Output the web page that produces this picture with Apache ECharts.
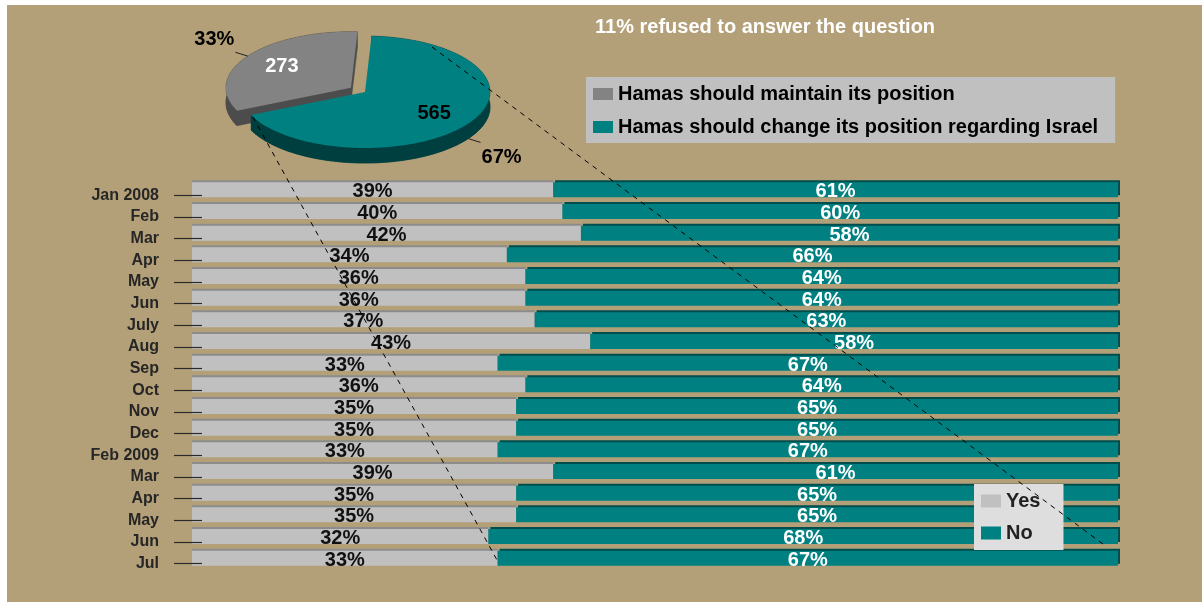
<!DOCTYPE html>
<html>
<head>
<meta charset="utf-8">
<script src="https://cdn.jsdelivr.net/npm/echarts@6/dist/echarts.min.js"></script>
<style>
  html, body { margin: 0; background: #fff; }
  #chart { width: 1202px; height: 602px; }
</style>
</head>
<body>
<div id="chart"></div>
<script>
// survey months, top to bottom
var months = ['Jan 2008', 'Feb', 'Mar', 'Apr', 'May', 'Jun', 'July', 'Aug', 'Sep', 'Oct', 'Nov', 'Dec',
  'Feb 2009', 'Mar', 'Apr', 'May', 'Jun', 'Jul'];
// percent answering yes / no
var yesValues = [39, 40, 42, 34, 36, 36, 37, 43, 33, 36, 35, 35, 33, 39, 35, 35, 32, 33];
var noValues = [61, 60, 58, 66, 64, 64, 63, 58, 67, 64, 65, 65, 67, 61, 65, 65, 68, 67];
var barNames = ['Yes', 'No'];

// pie: number of answers
var pieNames = ['Hamas should maintain its position', 'Hamas should change its position regarding Israel'];
var pieValues = [273, 565];
var noteText = '11% refused to answer the question';

//look
var FONT = 'Arial, "Liberation Sans", sans-serif';
var pieTop = ['#838383', '#008080'];
var pieSide = ['#4c4c4c', '#003f3f'];
var pieLabelColor = ['#fff', '#000'];
var PIE = { cx: 365, cy: 92, rx: 125, ry: 56, depth: 15, start: -87, explode: [17, 0] };

function ellipsePt(cx, cy, deg, dy) {
  var a = deg * Math.PI / 180;
  return [cx + PIE.rx * Math.cos(a), cy + PIE.ry * Math.sin(a) + dy];
}

function arcPts(cx, cy, a0, a1, dy) {
  var pts = [];
  for (var a = a0; a < a1; a += 1) {
    pts.push(ellipsePt(cx, cy, a, dy));
  }
  pts.push(ellipsePt(cx, cy, a1, dy));
  return pts;
}

/**
 * one 3d pie slice as a custom series
 */
function slice(i) {
  return {
    type: 'custom',
    name: pieNames[i],
    coordinateSystem: 'none',
    itemStyle: { color: pieTop[i] },
    data: [pieValues[i]],
    renderItem: function (params, api) {
      var total = 0, before = 0;
      for (var k = 0; k < pieValues.length; k++) {
        total += pieValues[k];
        if (k < i) before += pieValues[k];
      }
      var value = api.value(0);
      var a1 = PIE.start - before / total * 360;
      var a0 = a1 - value / total * 360;
      var mid = (a0 + a1) / 2 * Math.PI / 180;
      var cos = Math.cos(mid), sin = Math.sin(mid);
      var cx = PIE.cx + PIE.explode[i] * cos;
      var cy = PIE.cy + PIE.explode[i] * sin * PIE.ry / PIE.rx;
      var d = PIE.depth;

      var sideStyle = { fill: pieSide[i], stroke: pieSide[i], lineWidth: 0.5 };
      var front = sin > 0 ? d : 0;
      var p1 = [cx + PIE.rx * cos, cy + PIE.ry * sin + front];
      var p2 = [cx + PIE.rx * 1.12 * cos, cy + PIE.ry * 1.12 * sin + front];
      var pct = Math.round(value / total * 100) + '%';

      return {
        type: 'group',
        children: [
          { type: 'polygon', shape: { points: [[cx, cy + d]].concat(arcPts(cx, cy, a0, a1, d)) }, style: sideStyle },
          { type: 'polygon', shape: { points: arcPts(cx, cy, a0, a1, 0).concat(arcPts(cx, cy, a0, a1, d).reverse()) }, style: sideStyle },
          { type: 'polygon', shape: { points: [[cx, cy]].concat(arcPts(cx, cy, a0, a1, 0)) }, style: { fill: pieTop[i] } },
          {
            type: 'text',
            style: {
              x: cx + PIE.rx * 0.67 * cos, y: cy + PIE.ry * 0.67 * sin,
              text: String(value), fill: pieLabelColor[i],
              fontSize: 20, fontWeight: 'bold', fontFamily: FONT,
              align: 'center', verticalAlign: 'middle'
            }
          },
          { type: 'line', shape: { x1: p1[0], y1: p1[1], x2: p2[0], y2: p2[1] }, style: { stroke: '#222', lineWidth: 1 } },
          {
            type: 'text',
            style: {
              x: p2[0] + (cos < 0 ? -1 : 1), y: p2[1] + (sin < 0 ? -3 : 5),
              text: pct, fill: '#000',
              fontSize: 20, fontWeight: 'bold', fontFamily: FONT,
              align: cos < 0 ? 'right' : 'left', verticalAlign: sin < 0 ? 'bottom' : 'top'
            }
          }
        ]
      };
    }
  };
}

var barLabel = {
  show: true,
  position: 'inside',
  offset: [0, 2],
  formatter: '{c}%',
  fontSize: 20,
  fontWeight: 'bold',
  fontFamily: FONT
};

var chart = echarts.init(document.getElementById('chart'));

option = {
  animation: false,
  textStyle: { fontFamily: FONT },
  title: {
    text: noteText,
    left: 595,
    top: 17,
    padding: 0,
    textStyle: { color: '#fff', fontSize: 20, fontWeight: 'bold', fontFamily: FONT }
  },
  legend: [
    {
      data: pieNames,
      orient: 'vertical',
      left: 586,
      top: 77,
      padding: [7, 17, 6, 7],
      itemGap: 13,
      itemWidth: 20,
      itemHeight: 12,
      icon: 'rect',
      backgroundColor: '#C0C0C0',
      textStyle: { color: '#000', fontSize: 20, fontWeight: 'bold', fontFamily: FONT }
    },
    {
      data: barNames,
      orient: 'vertical',
      left: 974,
      top: 484,
      padding: [7, 23, 7, 7],
      itemGap: 12,
      itemWidth: 20,
      itemHeight: 13,
      icon: 'rect',
      backgroundColor: '#DEDEDE',
      textStyle: { color: '#222', fontSize: 20, fontWeight: 'bold', fontFamily: FONT }
    }
  ],
  grid: [
    { left: 192, right: 84, top: 179, height: 390 },
    // second grid only carries the month labels, a bit lower like the original
    { left: 202, right: 84, top: 184.5, height: 390 }
  ],
  xAxis: [
    { type: 'value', gridIndex: 0, min: 0, max: 100, show: false },
    { type: 'value', gridIndex: 1, min: 0, max: 100, show: false }
  ],
  yAxis: [
    { type: 'category', gridIndex: 0, data: months, inverse: true, show: false },
    {
      type: 'category',
      gridIndex: 1,
      data: months,
      inverse: true,
      z: 5,
      axisLine: { show: false },
      axisTick: { show: true, length: 28, alignWithLabel: true, interval: 0, lineStyle: { color: '#2a2a2a', width: 1.2 } },
      axisLabel: { interval: 0, margin: 43, color: '#262626', fontSize: 16, fontWeight: 'bold', fontFamily: FONT }
    }
  ],
  graphic: [
    { type: 'rect', left: 7, top: 5, z: -10, silent: true, shape: { width: 1195, height: 597 }, style: { fill: '#B4A078' } },
    { type: 'line', z: 100, silent: true, shape: { x1: 432, y1: 47, x2: 1107, y2: 547 }, style: { stroke: '#000', lineWidth: 1, lineDash: [5, 5] } },
    { type: 'line', z: 100, silent: true, shape: { x1: 253, y1: 117, x2: 497, y2: 560 }, style: { stroke: '#000', lineWidth: 1, lineDash: [5, 5] } }
  ],
  series: [
    slice(0),
    slice(1),
    {
      name: barNames[0],
      type: 'bar',
      stack: 'answers',
      barWidth: 15,
      data: yesValues,
      itemStyle: { color: '#C0C0C0', shadowColor: '#8c8c8c', shadowOffsetY: -2, shadowBlur: 0 },
      label: Object.assign({ color: '#111' }, barLabel)
    },
    {
      name: barNames[1],
      type: 'bar',
      stack: 'answers',
      barWidth: 15,
      data: noValues,
      itemStyle: { color: '#008080', shadowColor: '#004d4d', shadowOffsetX: 2, shadowOffsetY: -2, shadowBlur: 0 },
      label: Object.assign({ color: '#fff' }, barLabel)
    }
  ]
};

chart.setOption(option);
</script>
</body>
</html>
